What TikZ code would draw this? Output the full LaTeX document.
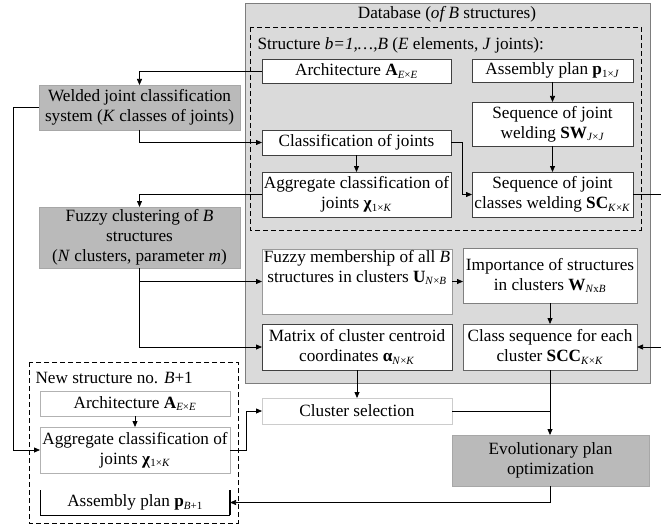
\documentclass[tikz,border=0pt]{standalone}
\usepackage{fontspec}
\setmainfont{Liberation Serif}
\usetikzlibrary{arrows.meta}
\definecolor{dbfill}{RGB}{218,218,218}
\definecolor{darkbox}{RGB}{186,186,186}
\definecolor{dbline}{RGB}{125,125,125}
\newcommand\sbs[1]{\textsubscript{\fontsize{11}{11}\selectfont #1}}
\begin{document}
\begin{tikzpicture}[x=1pt,y=-1pt,
  font=\fontsize{17.2}{20}\selectfont,
  box/.style={draw=black!75, fill=white, line width=0.6pt, inner sep=1pt, outer sep=0pt, align=center},
  lbox/.style={draw=black!30, fill=white, line width=0.6pt, inner sep=1pt, outer sep=0pt, align=center},
  gbox/.style={draw=darkbox!90!black, fill=darkbox, line width=0.4pt, inner sep=1pt, outer sep=0pt, align=center},
  arr/.style={-{Triangle[length=6pt,width=5pt]}, line width=0.75pt},
  ln/.style={line width=0.75pt},
  dashbox/.style={line width=0.9pt, dash pattern=on 5pt off 3pt}]
\clip (0,0) rectangle (661,524);
% database
\draw[fill=dbfill, draw=dbline, line width=0.8pt] (245,3) rectangle (650,383);
\node (dbt) at (447,14) {Database (\textit{of B} structures)};
\draw[dashbox] (250,27) rectangle (641,230);
\node[anchor=west] (stt) at (254,45) {Structure \textit{b=1,…,B} (\textit{E} elements, \textit{J} joints):};
% structure boxes
\node[box, minimum width=189pt, minimum height=24pt] (arch) at (356.5,71) {Architecture \textbf{A}\sbs{\textit{E}×\textit{E}}};
\node[box, minimum width=161pt, minimum height=23pt] (asm) at (552.5,70.5) {Assembly plan \textbf{p}\sbs{1×\textit{J}}};
\node[box, minimum width=161pt, minimum height=44pt] (sw) at (552.5,124) {Sequence of joint\\welding \textbf{SW}\sbs{\textit{J}×\textit{J}}};
\node[box, minimum width=189pt, minimum height=25pt] (cls) at (356.5,142.5) {Classification of joints};
\node[box, minimum width=189pt, minimum height=45pt] (agg) at (356.5,194.5) {Aggregate classification of\\joints \textbf{χ}\sbs{1×\textit{K}}};
\node[box, minimum width=161pt, minimum height=45pt] (sc) at (552.5,194.5) {Sequence of joint\\classes welding \textbf{SC}\sbs{\textit{K}×\textit{K}}};
% left gray boxes
\node[gbox, minimum width=201pt, minimum height=45pt] (weld) at (139.5,107.5) {Welded joint classification\\system (\textit{K} classes of joints)};
\node[gbox, minimum width=201pt, minimum height=61pt] (fuzc) at (139.5,237.5) {Fuzzy clustering of \textit{B}\\structures\\(\textit{N} clusters, parameter \textit{m})};
% lower database boxes
\node[box, draw=black!40, minimum width=190pt, minimum height=65pt] (fmem) at (357,281.5) {};
\node[anchor=north, align=center, inner sep=1pt] (fmemt) at (fmem.north) {Fuzzy membership of all \textit{B}\\structures in clusters \textbf{U}\sbs{\textit{N}×\textit{B}}};
\node[box, draw=black!50, minimum width=174pt, minimum height=55pt] (imp) at (550,275.5) {Importance of structures\\in clusters \textbf{W}\sbs{\textit{N}x\textit{B}}};
\node[box, minimum width=190pt, minimum height=46pt] (mat) at (357,347) {Matrix of cluster centroid\\coordinates \textbf{α}\sbs{\textit{N}×\textit{K}}};
\node[box, draw=black!60, minimum width=174pt, minimum height=46pt] (scc) at (550,347) {Class sequence for each\\cluster \textbf{SCC}\sbs{\textit{K}×\textit{K}}};
% outside
\node[lbox, draw=black!20, minimum width=190pt, minimum height=26pt] (csel) at (357,411) {Cluster selection};
\node[gbox, minimum width=197pt, minimum height=51pt] (evo) at (550.5,460.5) {Evolutionary plan\\optimization};
% new structure
\draw[dashbox] (29,362) rectangle (238,523);
\node[anchor=west] (nst) at (32,378) {New structure no. \textit{B}+1};
\node[lbox, minimum width=190pt, minimum height=25pt] (narch) at (135,403.5) {Architecture \textbf{A}\sbs{\textit{E}×\textit{E}}};
\node[lbox, minimum width=190pt, minimum height=46pt] (nagg) at (135,450) {Aggregate classification of\\joints \textbf{χ}\sbs{1×\textit{K}}};
\node[inner sep=1pt, outer sep=0pt, minimum width=190pt, minimum height=25pt] (nasm) at (135,502.5) {Assembly plan \textbf{p}\sbs{\textit{B}+1}};
\draw[line width=0.6pt] (nasm.north west) -- (nasm.south west) -- (nasm.south east);
\draw[line width=1.2pt] (nasm.north east) -- (nasm.south east);
% connectors
\draw[arr] (arch.west) -| (weld.north);
\draw[arr] (weld.south) |- (cls.west);
\draw[arr] (cls.south) -- (agg.north);
\draw[arr] (cls.east) -- ++(11,0) |- (sc.west);
\draw[arr] (agg.west) -| (fuzc.north);
\draw[arr] (asm.south) -- (sw.north);
\draw[arr] (sw.south) -- (sc.north);
\coordinate (rgt) at (668,194.5);
\draw[arr] (sc.east) -- (rgt) |- (scc.east);
\draw[arr] (fuzc.south) |- (mat.west);
\coordinate (fbr) at (fuzc.south |- fmem.west);
\draw[arr] (fbr) -- (fmem.west);
\draw[arr] (fmem.east) -- (fmem.east -| imp.west);
\draw[arr] (imp.south) -- (scc.north);
\draw[arr] (mat.south) -- (csel.north);
\draw[ln] (csel.east) -- (csel.east -| scc.south);
\draw[arr] (scc.south) -- (scc.south |- evo.north);
\draw[arr] (evo.south) |- (nasm.east);
\coordinate (lft) at (13,107.5);
\draw[arr] (weld.west) -- (lft) |- (nagg.west);
\draw[arr] (narch.south) -- (nagg.north);
\draw[arr] (nagg.east) -- ++(16,0) |- (csel.west);
\end{tikzpicture}
\end{document}
